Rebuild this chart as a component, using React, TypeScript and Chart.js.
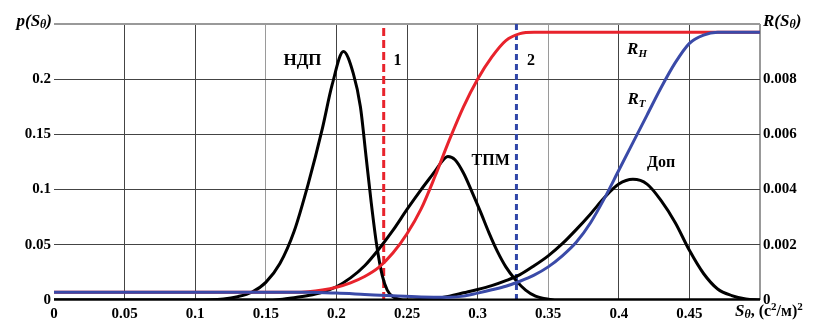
import React, { useEffect, useRef } from "react";
import { Chart, registerables } from "chart.js";

Chart.register(...registerables);

// ---------- data ----------
const ndpX = [0, 0.1, 0.12, 0.13, 0.14, 0.15, 0.16, 0.17, 0.18, 0.19, 0.197, 0.205, 0.212, 0.217, 0.221, 0.2245, 0.2285, 0.2325, 0.236, 0.24, 0.245, 0.25, 0.5];
const ndpY = [0, 0, 0.001, 0.003, 0.007, 0.016, 0.033, 0.062, 0.105, 0.155, 0.195, 0.225, 0.205, 0.175, 0.13, 0.09, 0.05, 0.022, 0.009, 0.003, 0.0005, 0, 0];

const tpmX = [0, 0.15, 0.16, 0.17, 0.18, 0.19, 0.2, 0.21, 0.22, 0.23, 0.24, 0.25, 0.26, 0.27, 0.275, 0.279, 0.284, 0.29, 0.296, 0.302, 0.308, 0.314, 0.32, 0.327, 0.334, 0.341, 0.35, 0.36, 0.5];
const tpmY = [0, 0, 0.0005, 0.002, 0.004, 0.007, 0.012, 0.02, 0.031, 0.046, 0.063, 0.082, 0.1, 0.117, 0.126, 0.13, 0.127, 0.115, 0.098, 0.08, 0.061, 0.044, 0.03, 0.018, 0.009, 0.0035, 0.0008, 0, 0];

const dopX = [0, 0.25, 0.26, 0.27, 0.28, 0.29, 0.3, 0.31, 0.32, 0.33, 0.34, 0.35, 0.36, 0.37, 0.38, 0.39, 0.4, 0.41, 0.42, 0.43, 0.44, 0.45, 0.46, 0.47, 0.48, 0.49, 0.5];
const dopY = [0, 0, 0.0005, 0.0015, 0.0035, 0.0065, 0.0095, 0.013, 0.0175, 0.023, 0.031, 0.04, 0.051, 0.064, 0.078, 0.093, 0.105, 0.1093, 0.105, 0.09, 0.07, 0.045, 0.024, 0.01, 0.004, 0.001, 0];

const rhX = [0, 0.17, 0.18, 0.19, 0.2, 0.21, 0.22, 0.23, 0.24, 0.25, 0.26, 0.27, 0.28, 0.29, 0.3, 0.31, 0.32, 0.33, 0.34, 0.5];
const rhY = [0.00028, 0.00028, 0.0003, 0.00036, 0.00046, 0.00062, 0.00085, 0.00118, 0.0017, 0.0024, 0.0033, 0.0045, 0.0058, 0.007, 0.008, 0.0088, 0.0094, 0.00965, 0.0097, 0.0097];

const rtX = [0, 0.18, 0.2, 0.22, 0.24, 0.26, 0.28, 0.29, 0.3, 0.31, 0.32, 0.33, 0.34, 0.35, 0.36, 0.37, 0.38, 0.39, 0.4, 0.41, 0.42, 0.43, 0.44, 0.45, 0.46, 0.47, 0.5];
const rtY = [0.00028, 0.00028, 0.00025, 0.0002, 0.00015, 0.00011, 0.0001, 0.00014, 0.00025, 0.00037, 0.0005, 0.00068, 0.0009, 0.0012, 0.0016, 0.0021, 0.0028, 0.0037, 0.0047, 0.0057, 0.0067, 0.0077, 0.0086, 0.0093, 0.0096, 0.0097, 0.0097];

const markerLines = [0.2335, 0.3275]; // "1" (red) and "2" (blue)

const xTicks = [0, 0.05, 0.1, 0.15, 0.2, 0.25, 0.3, 0.35, 0.4, 0.45];
const pTicks = [0, 0.05, 0.1, 0.15, 0.2];
const rTicks = [0, 0.002, 0.004, 0.006, 0.008];

// label texts and anchor positions (data units: S, p)
const labelTexts = ["НДП", "1", "2", "ТПМ", "Доп"];
const labelS = [0.176, 0.2433, 0.3378, 0.3093, 0.4299];
const labelP = [0.2183, 0.2183, 0.2183, 0.1277, 0.1259];
const rLabelBase = ["R", "R"];
const rLabelSub = ["H", "T"];
const rLabelS = [0.4129, 0.4125];
const rLabelP = [0.2287, 0.1834];

const FAM = '"Liberation Serif", "Times New Roman", serif';
const RED = "#e8232c";
const BLUE = "#3a4aa8";
const BLUE_DASH = "#2f45a8";

const pts = (xs: number[], ys: number[]) => xs.map((x, i) => ({ x, y: ys[i] }));

type Part = { t: string; f: string; dy?: number };
function drawRich(ctx: CanvasRenderingContext2D, parts: Part[], x: number, y: number, align: "left" | "center" | "right") {
  let w = 0;
  for (const p of parts) {
    ctx.font = p.f;
    w += ctx.measureText(p.t).width;
  }
  let cx = align === "left" ? x : align === "center" ? x - w / 2 : x - w;
  ctx.textAlign = "left";
  ctx.textBaseline = "alphabetic";
  for (const p of parts) {
    ctx.font = p.f;
    ctx.fillText(p.t, cx, y + (p.dy || 0));
    cx += ctx.measureText(p.t).width;
  }
}

const textPlugin = {
  id: "texts",
  afterDraw(chart: any) {
    const ctx: CanvasRenderingContext2D = chart.ctx;
    const xs = chart.scales.x;
    const ys = chart.scales.y;
    const ca = chart.chartArea;
    ctx.save();
    ctx.fillStyle = "#000";
    const bi = (s: number) => `italic bold ${s}px ${FAM}`;
    const b = (s: number) => `bold ${s}px ${FAM}`;
    // axis titles
    drawRich(ctx, [{ t: "p(S", f: bi(17) }, { t: "θ", f: bi(12), dy: 2 }, { t: ")", f: bi(17) }], ca.left - 2, ca.top + 2, "right");
    drawRich(ctx, [{ t: "R(S", f: bi(17) }, { t: "θ", f: bi(12), dy: 2 }, { t: ")", f: bi(17) }], ca.right + 3, ca.top + 2, "left");
    drawRich(
      ctx,
      [
        { t: "S", f: bi(17) },
        { t: "θ", f: bi(12), dy: 2 },
        { t: ", (с", f: b(16) },
        { t: "2", f: b(11), dy: -6 },
        { t: "/м)", f: b(16) },
        { t: "2", f: b(11), dy: -6 },
      ],
      ca.right - 25,
      ca.bottom + 16,
      "left"
    );
    // curve labels
    labelTexts.forEach((t, i) => {
      drawRich(ctx, [{ t, f: b(i === 0 ? 17 : 16) }], xs.getPixelForValue(labelS[i]), ys.getPixelForValue(labelP[i]) + 6, "center");
    });
    rLabelBase.forEach((t, i) => {
      drawRich(
        ctx,
        [{ t, f: bi(17) }, { t: rLabelSub[i], f: bi(11), dy: 3 }],
        xs.getPixelForValue(rLabelS[i]),
        ys.getPixelForValue(rLabelP[i]) + 6,
        "center"
      );
    });
    ctx.restore();
  },
};

const fmt = (v: number) => String(Number(v.toFixed(4)));

export default function App() {
  const ref = useRef<HTMLCanvasElement | null>(null);
  useEffect(() => {
    if (!ref.current) return;
    const curve = (data: any, color: string, yAxisID: string, order: number) => ({
      data,
      borderColor: color,
      backgroundColor: color,
      borderWidth: 3,
      pointRadius: 0,
      fill: false,
      cubicInterpolationMode: "monotone",
      yAxisID,
      order,
    });
    const vline = (s: number, color: string, dash: number[]) => ({
      data: [
        { x: s, y: 0 },
        { x: s, y: 0.25 },
      ],
      borderColor: color,
      borderWidth: 3,
      borderDash: dash,
      pointRadius: 0,
      fill: false,
      tension: 0,
      yAxisID: "y",
      order: 5,
    });
    const tickFont = { family: FAM, size: 15, weight: "bold" };
    const chart = new Chart(ref.current, {
      type: "line",
      data: {
        datasets: [
          vline(markerLines[0], RED, [8, 4]),
          vline(markerLines[1], BLUE_DASH, [6, 4]),
          curve(pts(ndpX, ndpY), "#000", "y", 3),
          curve(pts(tpmX, tpmY), "#000", "y", 3),
          curve(pts(dopX, dopY), "#000", "y", 3),
          curve(pts(rhX, rhY), RED, "yR", 2),
          curve(pts(rtX, rtY), BLUE, "yR", 1),
        ] as any,
      },
      options: {
        animation: false,
        responsive: false,
        events: [],
        layout: { padding: { top: 24, left: 0, right: 0, bottom: 0 } },
        plugins: { legend: { display: false }, tooltip: { enabled: false } },
        scales: {
          x: {
            type: "linear",
            min: 0,
            max: 0.5,
            afterBuildTicks: (s: any) => {
              s.ticks = [...xTicks, 0.5].map((v) => ({ value: v }));
            },
            afterFit: (s: any) => {
              s.height = 24;
            },
            ticks: {
              padding: 5,
              color: "#000",
              font: tickFont,
              callback: (v: any) => (xTicks.includes(Number(v)) ? fmt(Number(v)) : ""),
              maxRotation: 0,
              autoSkip: false,
            },
            grid: {
              drawTicks: false,
              color: (c: any) => {
                const v = c.tick ? c.tick.value : 0;
                if (v === 0) return "rgba(0,0,0,0)";
                if (v === 0.5) return "#999";
                if (Math.abs(v - 0.15) < 1e-6 || Math.abs(v - 0.35) < 1e-6) return "#9a9a9a";
                return "#444";
              },
              lineWidth: (c: any) => (c.tick && c.tick.value === 0.5 ? 2 : 1),
            },
            border: { display: false },
          },
          y: {
            type: "linear",
            position: "left",
            min: 0,
            max: 0.25,
            afterBuildTicks: (s: any) => {
              s.ticks = [...pTicks, 0.25].map((v) => ({ value: v }));
            },
            afterFit: (s: any) => {
              s.width = 54;
            },
            ticks: {
              padding: 3,
              color: "#000",
              font: tickFont,
              callback: (v: any) => (pTicks.includes(Number(v)) ? fmt(Number(v)) : ""),
              autoSkip: false,
            },
            grid: {
              drawTicks: false,
              color: (c: any) => (c.tick && c.tick.value === 0.25 ? "#999" : "#444"),
              lineWidth: (c: any) => (c.tick && c.tick.value === 0.25 ? 2 : 1),
            },
            border: { display: false },
          },
          yR: {
            type: "linear",
            position: "right",
            min: 0,
            max: 0.01,
            afterBuildTicks: (s: any) => {
              s.ticks = [...rTicks, 0.01].map((v) => ({ value: v }));
            },
            afterFit: (s: any) => {
              s.width = 53;
            },
            ticks: {
              padding: 3,
              color: "#000",
              font: tickFont,
              callback: (v: any) => (rTicks.includes(Number(v)) ? fmt(Number(v)) : ""),
              autoSkip: false,
            },
            grid: { display: false, drawTicks: false },
            border: { display: false },
          },
        },
      } as any,
      plugins: [textPlugin],
    });
    return () => chart.destroy();
  }, []);
  return (
    <div style={{ position: "absolute", left: 0, top: 0, width: 813, height: 324, background: "#fff" }}>
      <canvas ref={ref} width={813} height={324} style={{ display: "block" }} />
    </div>
  );
}
